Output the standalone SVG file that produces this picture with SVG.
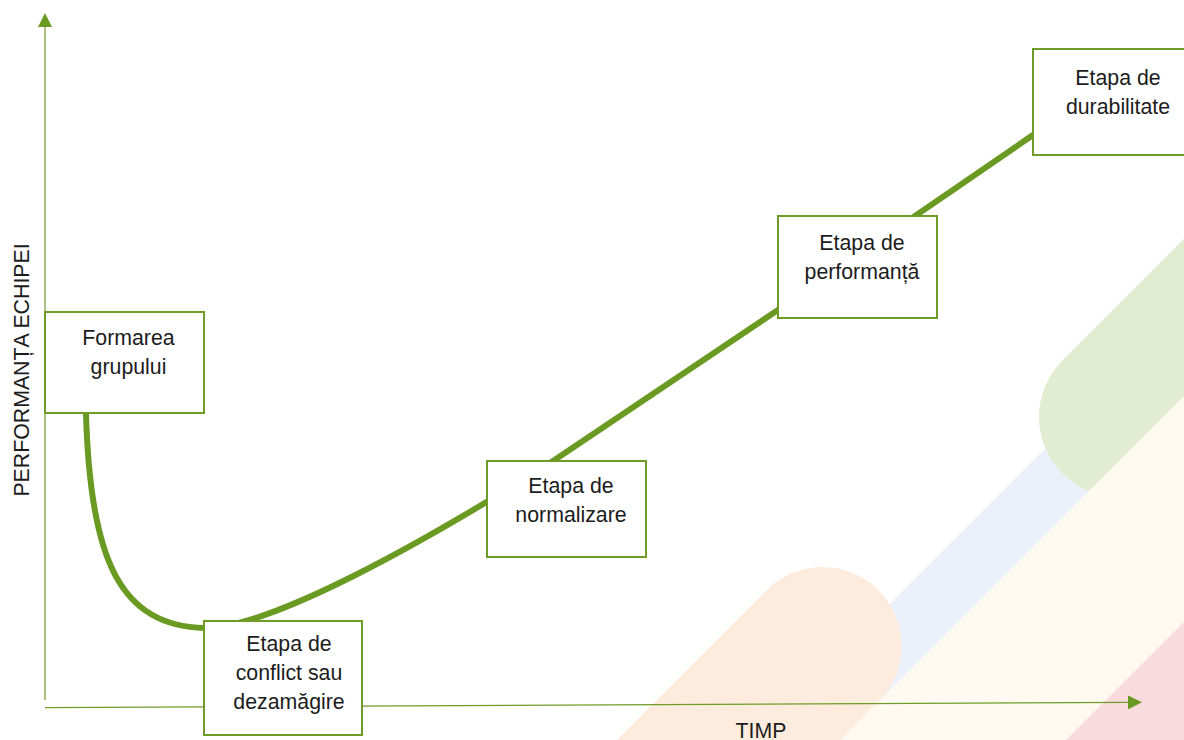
<svg xmlns="http://www.w3.org/2000/svg" width="1184" height="740" viewBox="0 0 1184 740">
<style>
.box{fill:#ffffff;stroke:#6e9c27;stroke-width:2}
.lbl{font-family:"Liberation Sans",Arial,Helvetica,sans-serif;font-size:21.3px;fill:#1c1c1c;text-anchor:middle}
.axis{fill:none;stroke:#6e9c27;stroke-width:1.2}
.curve{fill:none;stroke:#6b9a22;stroke-width:6;stroke-linecap:round}
</style>
<defs>
<marker id="arrow" viewBox="0 0 14 14" refX="0" refY="7" markerWidth="14" markerHeight="14" markerUnits="userSpaceOnUse" orient="auto">
<path d="M0,0 L14,7 L0,14 z" fill="#6b9a22"/>
</marker>
</defs>
<rect width="1184" height="740" fill="#ffffff"/>
<g id="background">
<line x1="1300" y1="307" x2="700" y2="907" stroke="#eaf1fb" stroke-width="160"/>
<line x1="1119" y1="417" x2="1500" y2="36" stroke="#e2ecd1" stroke-width="160" stroke-linecap="round"/>
<line x1="822.5" y1="646" x2="522.5" y2="946" stroke="#fdecdd" stroke-width="158" stroke-linecap="round"/>
<polygon points="1580,0 1900,0 1160,740 840,740" fill="#fefaf1"/>
<polygon points="1806,0 2600,0 2600,740 1066,740" fill="#f9dbde"/>
</g>
<g id="connectors">
<line class="axis" x1="45" y1="700" x2="45" y2="27" marker-end="url(#arrow)"/>
<line class="axis" x1="45" y1="707.7" x2="1128" y2="702.4" marker-end="url(#arrow)"/>
<path class="curve" d="M86,413 C90,560 120,626 205,628 C270,628 420,545 553,461 L778,310 L1033,135"/>
</g>
<text class="lbl" transform="translate(29,370) rotate(-90)">PERFORMANȚA ECHIPEI</text>
<text class="lbl" x="761" y="738">TIMP</text>
<g id="formarea">
<rect class="box" x="45" y="312" width="159" height="101"/>
<text class="lbl" x="128.5" y="345">Formarea</text>
<text class="lbl" x="128.5" y="374">grupului</text>
</g>
<g id="conflict">
<rect class="box" x="204" y="621" width="158" height="114"/>
<text class="lbl" x="289" y="651">Etapa de</text>
<text class="lbl" x="289" y="680">conflict sau</text>
<text class="lbl" x="289" y="709">dezamăgire</text>
</g>
<g id="normalizare">
<rect class="box" x="487" y="461" width="159" height="96"/>
<text class="lbl" x="571" y="493">Etapa de</text>
<text class="lbl" x="571" y="522">normalizare</text>
</g>
<g id="performanta">
<rect class="box" x="778" y="216" width="159" height="102"/>
<text class="lbl" x="862" y="250">Etapa de</text>
<text class="lbl" x="862" y="279">performanță</text>
</g>
<g id="durabilitate">
<rect class="box" x="1033" y="49" width="160" height="106"/>
<text class="lbl" x="1118" y="85">Etapa de</text>
<text class="lbl" x="1118" y="113.5">durabilitate</text>
</g>
</svg>
